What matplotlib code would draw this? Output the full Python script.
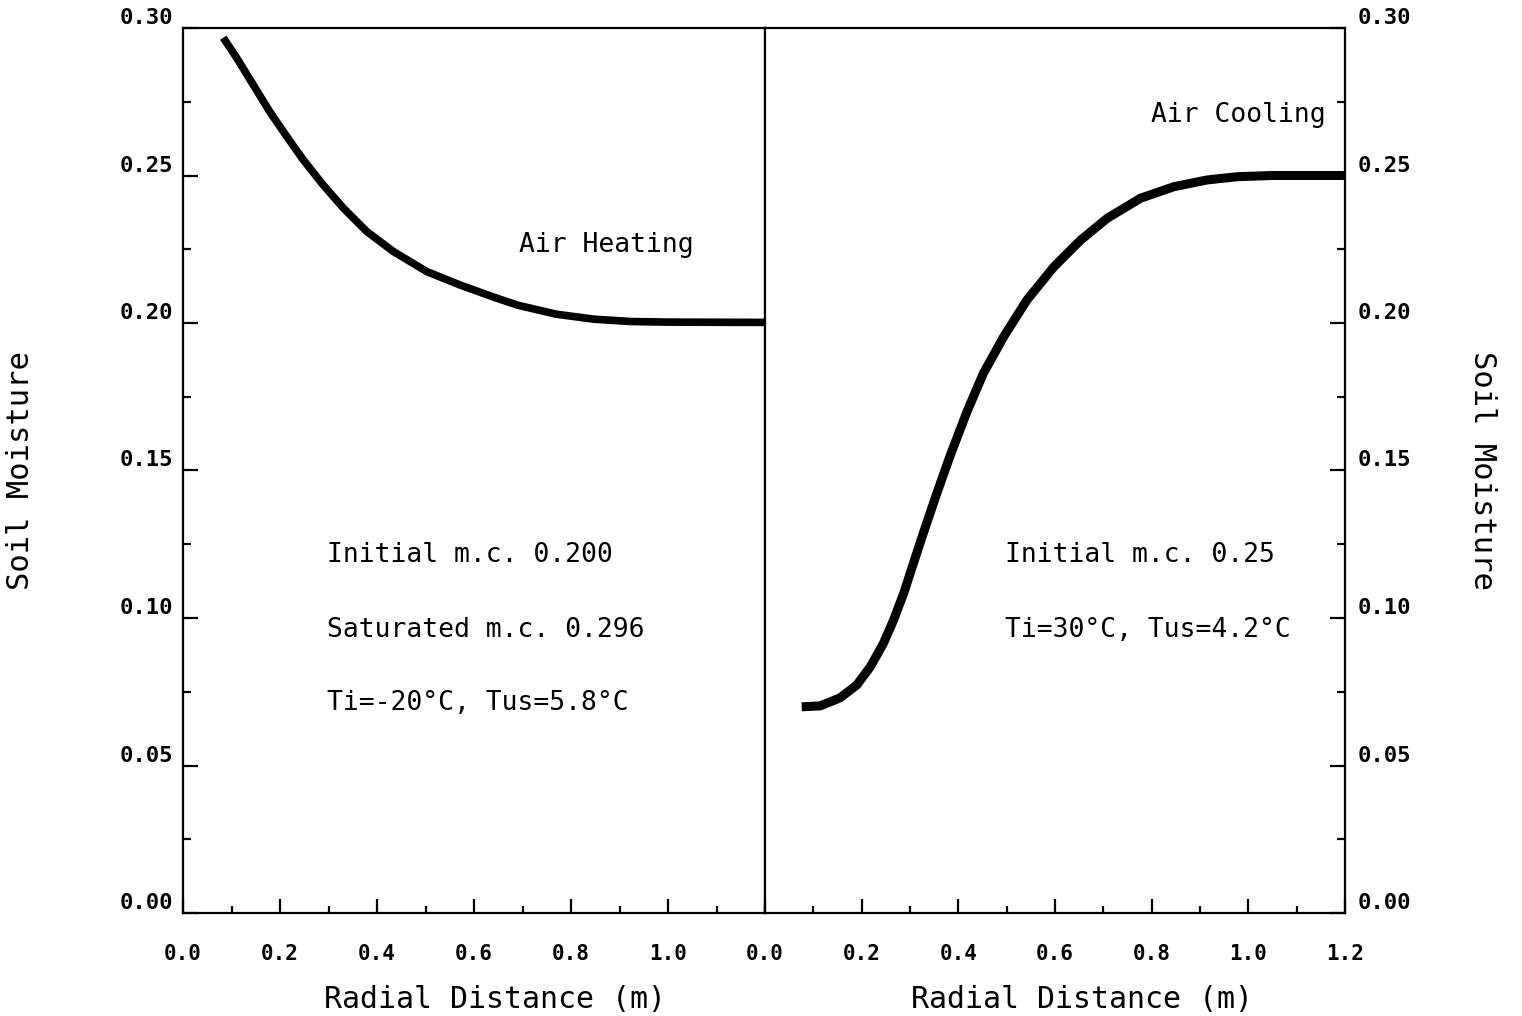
import numpy as np
import matplotlib
matplotlib.use("Agg")
import matplotlib.pyplot as plt
from matplotlib.ticker import MultipleLocator, FixedLocator, FuncFormatter

# Calentamiento con aire (panel izquierdo)
heat_x = [0.083, 0.111, 0.145, 0.179, 0.214, 0.248, 0.289, 0.331, 0.379,
          0.434, 0.503, 0.571, 0.640, 0.691, 0.769, 0.847, 0.924, 1.002, 1.2]
heat_y = [0.2967, 0.2898, 0.2807, 0.2716, 0.2632, 0.2553, 0.2468, 0.2389,
          0.2310, 0.2242, 0.2174, 0.2129, 0.2088, 0.2060, 0.2030, 0.2013,
          0.2005, 0.2003, 0.2002]

# Enfriamiento con aire (panel derecho)
cool_x = [0.076, 0.114, 0.155, 0.190, 0.218, 0.245, 0.266, 0.287, 0.307,
          0.328, 0.356, 0.383, 0.418, 0.452, 0.494, 0.542, 0.598, 0.653,
          0.708, 0.777, 0.846, 0.915, 0.978, 1.05, 1.2]
cool_y = [0.0699, 0.0702, 0.0729, 0.0773, 0.0835, 0.0914, 0.0993, 0.1084,
          0.1185, 0.1290, 0.1425, 0.1550, 0.1700, 0.1830, 0.1954, 0.2078,
          0.2191, 0.2281, 0.2355, 0.2423, 0.2462, 0.2485, 0.2496, 0.2500,
          0.2500]

heat_notes = ["Initial m.c. 0.200", "Saturated m.c. 0.296", "Ti=-20°C, Tus=5.8°C"]
cool_notes = ["Initial m.c. 0.25", "Ti=30°C, Tus=4.2°C"]

xlabel = "Radial Distance (m)"
ylabel = "Soil Moisture"

font = ["DejaVu Sans Mono", "DejaVu Sans"]
plt.rcParams['font.family'] = font

fig = plt.figure(figsize=(15.22, 10.16), dpi=100)
ax_l = fig.add_axes([183/1522, 103/1016, 582/1522, 885/1016])
ax_r = fig.add_axes([765/1522, 103/1016, 580/1522, 885/1016])

fmt_x = FuncFormatter(lambda v, p: f"{v:.1f}")
fmt_y = FuncFormatter(lambda v, p: f"{v:.2f}")

for ax in (ax_l, ax_r):
    ax.set_xlim(0, 1.2)
    ax.set_ylim(0, 0.30)
    for s in ax.spines.values():
        s.set_linewidth(1.6)
    ax.yaxis.set_major_locator(FixedLocator(np.arange(0, 0.301, 0.05)))
    ax.yaxis.set_minor_locator(MultipleLocator(0.025))
    ax.xaxis.set_minor_locator(MultipleLocator(0.1))
    ax.xaxis.set_major_formatter(fmt_x)
    ax.yaxis.set_major_formatter(fmt_y)
    ax.tick_params(which='both', direction='in', top=False, width=1.6)
    ax.tick_params(axis='x', which='major', length=10, pad=22, labelsize=15)
    ax.tick_params(axis='x', which='minor', length=5)
    ax.tick_params(axis='y', which='major', length=11, labelsize=16, pad=7)
    ax.tick_params(axis='y', which='minor', length=6)
    ax.set_xlabel(xlabel, fontsize=21.5)

# panel izquierdo
ax_l.xaxis.set_major_locator(FixedLocator([0.0, 0.2, 0.4, 0.6, 0.8, 1.0]))
ax_l.tick_params(axis='y', which='both', left=True, right=False)
ax_l.plot(heat_x, heat_y, color='black', lw=5.5,
          solid_capstyle='butt', solid_joinstyle='round')
ax_l.set_ylabel(ylabel, fontsize=22)
ax_l.yaxis.set_label_coords(-0.254, 0.5)
ax_l.xaxis.set_label_coords(0.536, -0.081)
ax_l.text(0.693, 0.2264, "Air Heating", fontsize=19, va='center')
for txt, yy in zip(heat_notes, [0.1214, 0.0959, 0.0712]):
    ax_l.text(0.296, yy, txt, fontsize=19, va='center')

# panel derecho
ax_r.xaxis.set_major_locator(FixedLocator([0.0, 0.2, 0.4, 0.6, 0.8, 1.0, 1.2]))
ax_r.tick_params(axis='y', which='both', left=False, right=True,
                 labelleft=False, labelright=True, pad=9)
ax_r.plot(cool_x, cool_y, color='black', lw=6.5,
          solid_capstyle='butt', solid_joinstyle='round')
ax_r.yaxis.set_label_position('right')
ax_r.set_ylabel(ylabel, fontsize=22, rotation=-90)
ax_r.yaxis.set_label_coords(1.262, 0.5)
ax_r.xaxis.set_label_coords(0.547, -0.081)
ax_r.text(0.798, 0.2705, "Air Cooling", fontsize=19, va='center')
for txt, yy in zip(cool_notes, [0.1214, 0.0959]):
    ax_r.text(0.497, yy, txt, fontsize=19, va='center')

for ax in (ax_l, ax_r):
    for lab in ax.get_xticklabels() + ax.get_yticklabels():
        lab.set_fontweight('bold')
    for t in ax.yaxis.get_major_ticks():
        t.label1.set_verticalalignment('bottom')
        t.label2.set_verticalalignment('bottom')

fig.savefig("out.png", dpi=100)
